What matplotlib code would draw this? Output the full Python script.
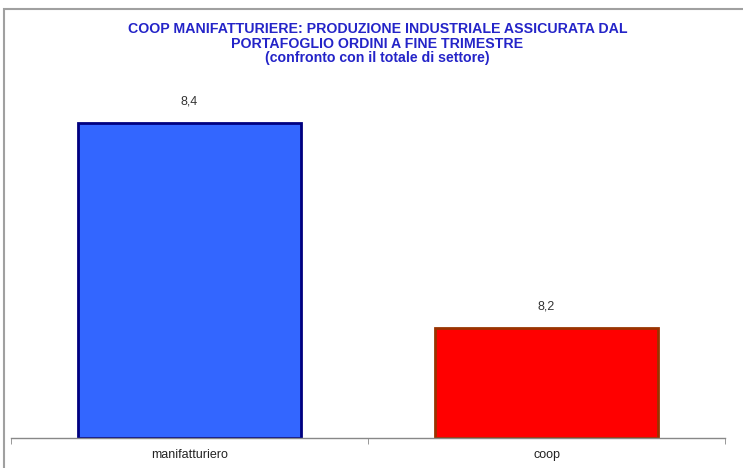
import matplotlib.pyplot as plt
from matplotlib.patches import Rectangle

categorie = ["manifatturiero", "coop"]
valori = [8.4, 8.2]
etichette = ["8,4", "8,2"]
colori = ["#3366FF", "#FF0000"]
bordi = ["#000080", "#993300"]

plt.rcParams['font.family'] = ['Liberation Sans', 'DejaVu Sans']

fig = plt.figure(figsize=(7.43, 4.68), dpi=100)
ax = fig.add_axes([11/743, 1 - 438/468, 714/743, 348/468])

base = 8.093
x = range(len(categorie))
altezze = [v - base for v in valori]
ax.bar(x, altezze, bottom=base, width=0.625, color=colori, edgecolor=bordi, linewidth=2)

for i, (v, t) in enumerate(zip(valori, etichette)):
    ax.annotate(t, (i, v), xytext=(0, 11), textcoords='offset points',
                ha='center', va='bottom', fontsize=9, color='#333333')

ax.set_xlim(-0.5, 1.5)
ax.set_ylim(base, 8.432)
ax.set_xticks(list(x))
ax.set_xticklabels(categorie, fontsize=9, color='#222222')
ax.tick_params(axis='x', which='major', length=0, pad=8)
ax.set_xticks([-0.5, 0.5, 1.5], minor=True)
ax.tick_params(axis='x', which='minor', length=4, color='#888888', direction='out')
ax.set_yticks([])
for s in ['left', 'right', 'top']:
    ax.spines[s].set_visible(False)
ax.spines['bottom'].set_color('#888888')
ax.spines['bottom'].set_linewidth(1)

fig.text(0.508, 1 - 22/468, "COOP MANIFATTURIERE: PRODUZIONE INDUSTRIALE ASSICURATA DAL\n"
         "PORTAFOGLIO ORDINI A FINE TRIMESTRE\n(confronto con il totale di settore)",
         ha='center', va='top', fontsize=10.2, fontweight='bold', color='#2424C8',
         linespacing=1.05)

# cornice del grafico
cornice = Rectangle((4/743, -0.05), 1.2, 1 - 9/468 + 0.05, transform=fig.transFigure,
                    fill=False, edgecolor='#A0A0A0', linewidth=1.5, clip_on=False)
fig.patches.append(cornice)

fig.savefig("out.png", dpi=100)
